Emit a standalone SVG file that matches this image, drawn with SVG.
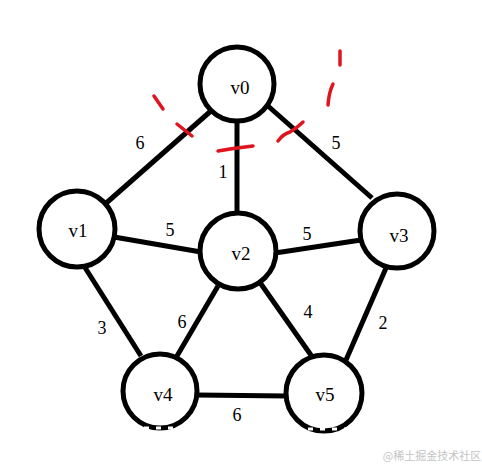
<svg xmlns="http://www.w3.org/2000/svg" width="482" height="464" viewBox="0 0 482 464">
<style>
.node circle{fill:#fff;stroke:#000;stroke-width:5}
.node text{font-family:"Liberation Serif",serif;font-size:19px;fill:#000;text-anchor:middle}
.edge{stroke:#000;stroke-width:5;fill:none}
.w{font-family:"Liberation Serif",serif;font-size:18px;fill:#000;text-anchor:middle}
.red{stroke:#e0141e;stroke-width:3.5;fill:none;stroke-linecap:round}
</style>
<rect width="482" height="464" fill="#fff"/>
<g id="connectors">
<line class="edge" x1="212" y1="110" x2="104" y2="205"/>
<line class="edge" x1="237" y1="120" x2="237" y2="214"/>
<line class="edge" x1="268" y1="106" x2="372" y2="198"/>
<line class="edge" x1="114" y1="237" x2="201" y2="252"/>
<line class="edge" x1="275" y1="253" x2="361" y2="240"/>
<line class="edge" x1="84" y1="266" x2="141" y2="356"/>
<line class="edge" x1="218" y1="286" x2="177" y2="356"/>
<line class="edge" x1="261" y1="284" x2="313" y2="358"/>
<line class="edge" x1="386" y1="268" x2="346" y2="360"/>
<line class="edge" x1="197" y1="395" x2="287" y2="396"/>
</g>
<g id="v0" class="node"><circle cx="237" cy="84" r="37"/><text x="240" y="94">v0</text></g>
<g id="v1" class="node"><circle cx="77" cy="229" r="38"/><text x="78" y="237">v1</text></g>
<g id="v2" class="node"><circle cx="238" cy="251" r="38"/><text x="241" y="260">v2</text></g>
<g id="v3" class="node"><circle cx="397" cy="231" r="37"/><text x="399" y="242">v3</text></g>
<g id="v4" class="node"><circle cx="160" cy="391" r="37"/><text x="163" y="401">v4</text></g>
<g id="v5" class="node"><circle cx="324" cy="393" r="38"/><text x="325" y="401">v5</text></g>
<g id="weights">
<text class="w" x="140" y="149">6</text>
<text class="w" x="223" y="178">1</text>
<text class="w" x="336" y="149">5</text>
<text class="w" x="170" y="236">5</text>
<text class="w" x="307" y="240">5</text>
<text class="w" x="102" y="334">3</text>
<text class="w" x="182" y="328">6</text>
<text class="w" x="308" y="318">4</text>
<text class="w" x="383" y="329">2</text>
<text class="w" x="237" y="421">6</text>
</g>
<g id="marks">
<path class="red" d="M154 96 L163 109"/>
<path class="red" d="M177 124 L192 136"/>
<path class="red" d="M218 151 Q235 148 253 146"/>
<path class="red" d="M278 141 Q283 134 290 132 Q297 128 303 122"/>
<path class="red" d="M340 51 L340 65"/>
<path class="red" d="M333 84 Q329 92 328 105"/>
</g>
<path d="M120 428 H200 M284 429 H366" stroke="#fff" stroke-width="3" stroke-dasharray="5 7"/>
<text x="432" y="460" font-family="'Noto Sans CJK SC',sans-serif" font-size="11" fill="#c4c4c4" text-anchor="middle">@稀土掘金技术社区</text>
</svg>
